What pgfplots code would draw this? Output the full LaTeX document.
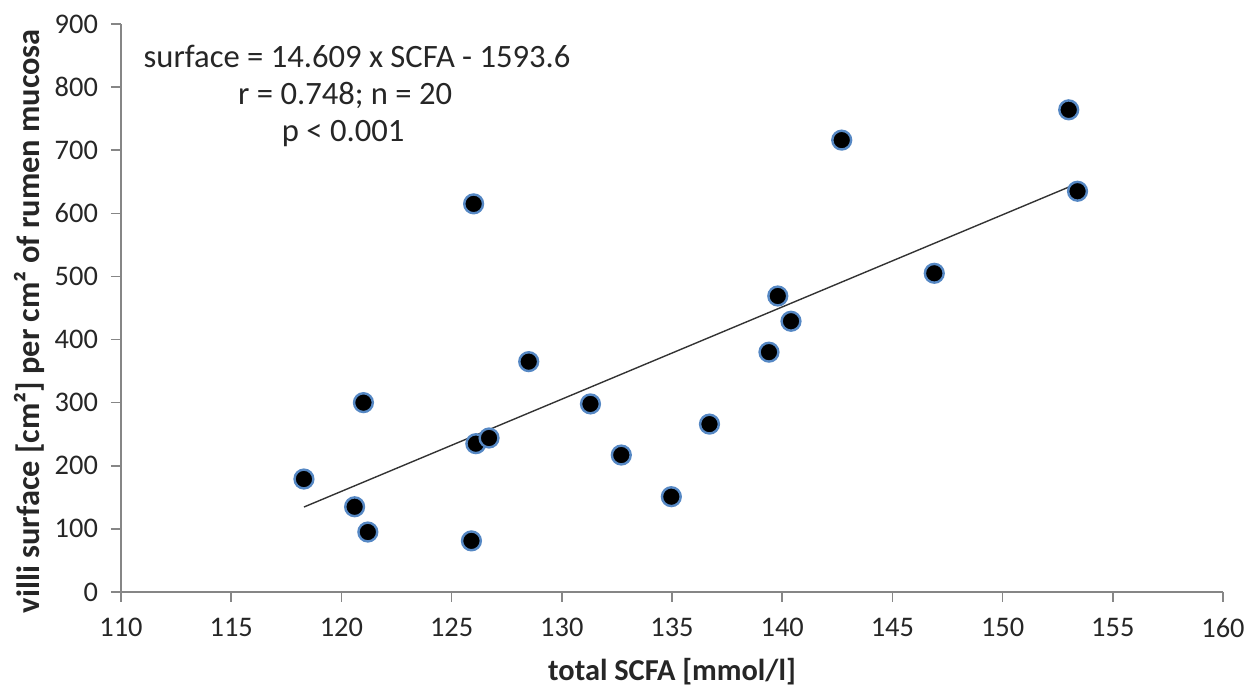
\documentclass[border=0pt]{standalone}
\usepackage{pgfplots}
\pgfplotsset{compat=1.18}
\usepackage{fontspec}
\setmainfont{Carlito}
\definecolor{axgray}{RGB}{134,134,134}
\definecolor{mkblue}{RGB}{86,136,196}
\begin{document}
\begin{tikzpicture}
\begin{axis}[
  scale only axis,
  width=551pt, height=284pt,
  xmin=110, xmax=160, ymin=0, ymax=900,
  xtick={110,115,...,160}, ytick={0,100,...,900},
  axis lines*=left,
  axis line style={axgray, line width=0.8pt},
  tick style={axgray, line width=0.8pt},
  tick align=outside,
  major tick length=5pt,
  /pgf/number format/assume math mode=true,
  /pgf/number format/1000 sep={},
  ticklabel style={font=\fontsize{14.2}{17}\selectfont, text=black!85},
  xticklabel style={yshift=-4.5pt},
  yticklabel style={xshift=-3pt},
  xlabel={\textbf{total SCFA [mmol/l]}},
  ylabel={\textbf{villi surface [cm²] per cm² of rumen mucosa}},
  xlabel style={font=\fontsize{15.2}{18}\selectfont, text=black!85, at={(axis description cs:0.5,-0.141)}, anchor=center},
  ylabel style={font=\fontsize{16.2}{19}\selectfont, text=black!85, at={(axis description cs:-0.083,0.477)}, anchor=center},
  clip=false,
]
\addplot[black!80, line width=0.7pt] coordinates {(118.3,134.6) (153.4,647.4)};
\addplot[only marks, mark=*, mark size=4.7pt,
  mark options={fill=black, draw=mkblue, line width=1.2pt}]
  coordinates {
  (118.3,179) (120.6,135) (121.2,95) (121.0,300)
  (125.9,81) (126.0,615) (126.1,235) (126.7,244)
  (128.5,365) (131.3,298) (132.7,217) (134.97,151)
  (136.7,266) (139.4,380) (139.8,469) (140.4,429)
  (142.7,716) (146.9,505) (153.0,764) (153.4,635)
  };
\node[font=\fontsize{16.3}{19}\selectfont, text=black!85] at (axis cs:120.71,848) {surface = 14.609 x SCFA - 1593.6};
\node[font=\fontsize{16.3}{19}\selectfont, text=black!85] at (axis cs:120.17,786) {r = 0.748; n = 20};
\node[font=\fontsize{16.3}{19}\selectfont, text=black!85] at (axis cs:120.08,726) {p < 0.001};
\coordinate (bl) at (rel axis cs:0,0);
\end{axis}
\pgfresetboundingbox
\path ([shift={(-60.5pt,-48pt)}]bl) rectangle ([shift={(569pt,296pt)}]bl);
\end{tikzpicture}
\end{document}
